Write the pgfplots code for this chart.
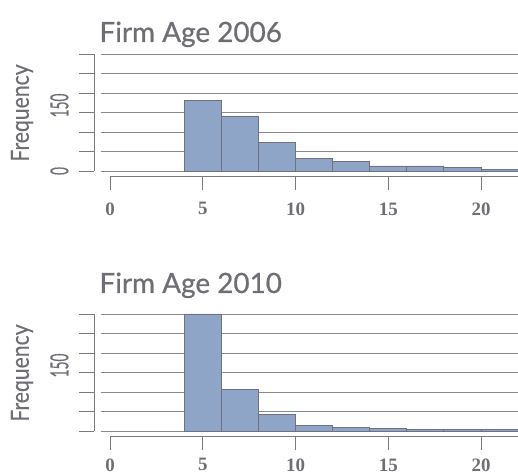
\documentclass[border=0pt]{standalone}
\usepackage{pgfplots}
\pgfplotsset{compat=1.18}
\usepackage{fontspec}
\setmainfont{Lato}
\newfontfamily\titlefont[FakeBold=0.7]{Lato}
\newfontfamily\labfont[FakeBold=0.3]{Lato}
\newfontfamily\tickserif{Liberation Serif}
\definecolor{textgray}{HTML}{6E6E76}
\definecolor{barfill}{HTML}{8FA5C7}
\definecolor{baredge}{HTML}{6F7080}
\definecolor{gridgray}{HTML}{8A8A8A}
\definecolor{axisgray}{HTML}{7A7A7A}
\pgfplotsset{
  dataax/.style={scale only axis, width=417.3bp, height=117bp,
    xmin=-0.5, xmax=22, ymin=0, ymax=300, anchor=south west,
    axis line style={draw=none}, xtick=\empty,
    ytick={0,50,...,300}, yticklabel=\empty, ytick style={draw=none},
    ymajorgrids, grid style={color=gridgray, line width=0.8bp}, clip=false},
  yax/.style={scale only axis, width=1bp, height=117bp,
    xmin=0, xmax=1, ymin=0, ymax=300, anchor=south west,
    axis y line=left, axis x line=none,
    axis line style={-, color=axisgray, line width=0.9bp},
    ytick={0,50,...,300}, tick align=outside, major tick length=15bp,
    tick style={color=axisgray, line width=0.9bp},
    yticklabel style={rotate=90, anchor=south, yshift=7bp, text=textgray,
      font=\labfont\fontsize{25}{25}\selectfont},
    extra y ticks={168}, extra y tick labels={\scalebox{0.55}[1]{150}},
    extra y tick style={major tick style={draw=none}}},
  xax/.style={scale only axis, width=408.1bp, height=1bp,
    xmin=0, xmax=22, ymin=0, ymax=1, anchor=south west,
    axis x line=bottom, axis y line=none,
    axis line style={-, color=axisgray, line width=0.9bp},
    xtick={0,5,10,15,20}, xticklabels={0,5,10,15,20},
    tick align=outside, major tick length=14bp,
    tick style={color=axisgray, line width=0.9bp},
    xticklabel style={text=textgray,
      font=\tickserif\bfseries\fontsize{19}{19}\selectfont}},
  bars/.style={ybar interval, fill=barfill, draw=baredge, line width=0.8bp}
}
\begin{document}
\begin{tikzpicture}[x=1bp,y=1bp]
\useasboundingbox (0,0) rectangle (518,476);
% ---------- top panel ----------
\begin{axis}[dataax, at={(100.7bp,305bp)}]
\addplot[bars] coordinates {(4,182) (6,141) (8,73) (10,33) (12,25) (14,13) (16,13) (18,8.5) (20,4) (22,4)};
\end{axis}
\begin{axis}[yax, at={(94bp,305bp)}, yticklabels={\scalebox{0.55}[1]{0},,,,,,}]
\end{axis}
\begin{axis}[xax, at={(110bp,300bp)}, xticklabel style={yshift=-9bp}]
\end{axis}
\node[anchor=base west, text=textgray, font=\titlefont\fontsize{28}{30}\selectfont] at (96,434) {Firm Age 2006};
\node[rotate=90, text=textgray, font=\labfont\fontsize{25}{25}\selectfont] at (22,363) {\scalebox{0.85}[1]{Frequency}};
% ---------- bottom panel ----------
\begin{axis}[dataax, at={(100.7bp,45bp)}]
\addplot[bars] coordinates {(4,300) (6,107) (8,43) (10,15) (12,10) (14,7) (16,3) (18,3) (20,3) (22,3)};
\end{axis}
\begin{axis}[yax, at={(94bp,45bp)}, yticklabels={,,,,,,}]
\end{axis}
\begin{axis}[xax, at={(110bp,40bp)}, xticklabel style={yshift=-5bp}]
\end{axis}
\node[anchor=base west, text=textgray, font=\titlefont\fontsize{28}{30}\selectfont] at (96,183) {Firm Age 2010};
\node[rotate=90, text=textgray, font=\labfont\fontsize{25}{25}\selectfont] at (22,103) {\scalebox{0.85}[1]{Frequency}};
\end{tikzpicture}
\end{document}
